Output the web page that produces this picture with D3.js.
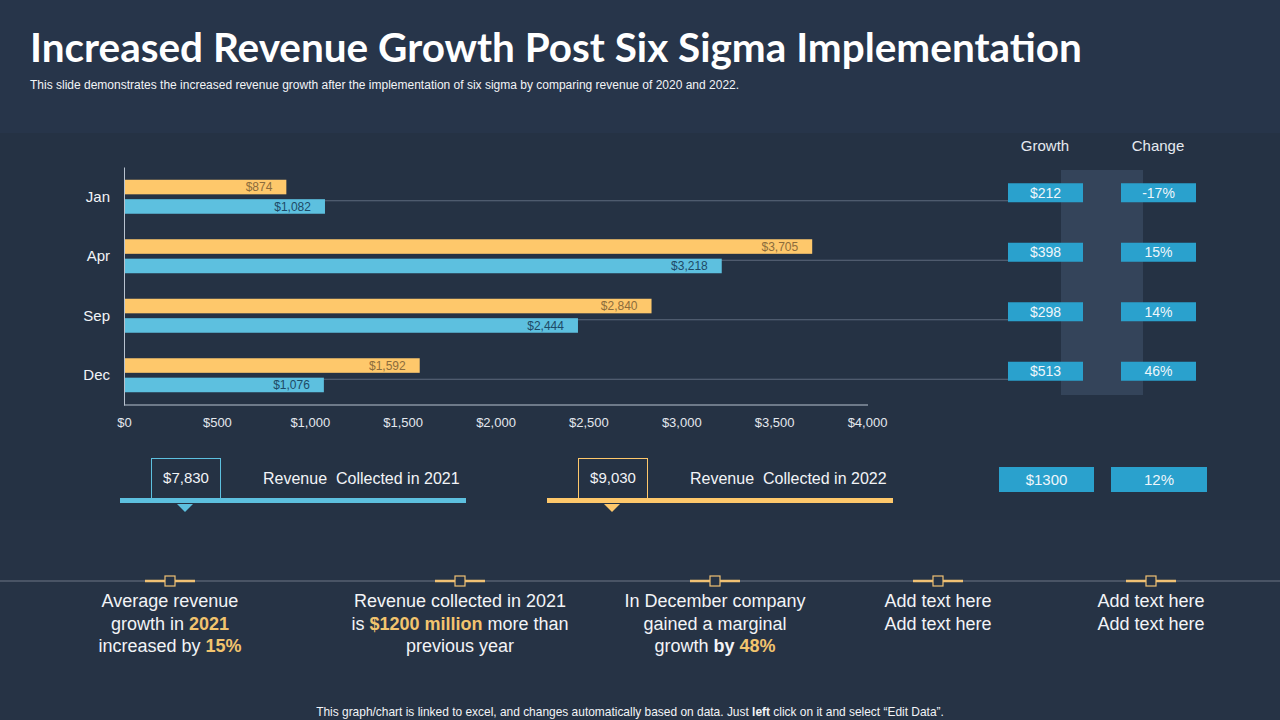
<!DOCTYPE html>
<html>
<head>
<meta charset="utf-8">
<script src="https://cdn.jsdelivr.net/npm/d3@7"></script>
<style>
  body { margin: 0; background: #253244; }
  svg { display: block; font-family: "Liberation Sans", Arial, sans-serif; }
</style>
</head>
<body>
<script>
//chart data
const months = ["Jan", "Apr", "Sep", "Dec"];
const rev2022 = [874, 3705, 2840, 1592];
const rev2021 = [1082, 3218, 2444, 1076];
const growth = [212, 398, 298, 513];
const change = [-17, 15, 14, 46];
const totalGrowth = 1300;
const totalChange = 12;
const total2021 = 7830;
const total2022 = 9030;
const xTicks = [0, 500, 1000, 1500, 2000, 2500, 3000, 3500, 4000];

//colours
const orange = "#fec86b";
const blue = "#5dc0df";
const boxBlue = "#2aa1cd";

const svg = d3.select("body").append("svg")
  .attr("width", 1280)
  .attr("height", 720);

//background bands
svg.append("rect").attr("width", 1280).attr("height", 720).attr("fill", "#253244");
svg.append("rect").attr("width", 1280).attr("height", 133).attr("fill", "#27354a");
svg.append("rect").attr("y", 520).attr("width", 1280).attr("height", 200).attr("fill", "#263345");

//title, subtitle, fitted to the slide width
function fit(sel, target) {
  let len = sel.node().getComputedTextLength();
  let fs = parseFloat(sel.attr("font-size"));
  sel.attr("font-size", fs * target / len);
}

let title = svg.append("text")
  .attr("x", 30).attr("y", 62)
  .attr("font-family", "Lato, 'DejaVu Sans', sans-serif")
  .attr("font-weight", "bold")
  .attr("font-size", 38)
  .attr("fill", "#ffffff")
  .text("Increased Revenue Growth Post Six Sigma Implementation");
fit(title, 1052);

let sub = svg.append("text")
  .attr("x", 30).attr("y", 89)
  .attr("font-size", 11)
  .attr("fill", "#f2f4f7")
  .text("This slide demonstrates the increased revenue growth after the implementation of six sigma by comparing revenue of 2020 and 2022.");
fit(sub, 710);

//scales
const x = d3.scaleLinear().domain([0, 4000]).range([124, 867]);
const y = d3.scaleBand().domain(months).range([167, 405]);
const ySub = d3.scaleBand().domain(["2022", "2021"]).range([-17, 17]).paddingInner(0.25);

const rows = months.map((m, i) => ({
  month: m, v2022: rev2022[i], v2021: rev2021[i], growth: growth[i], change: change[i]
}));
const mid = m => y(m) + y.bandwidth() / 2;

//highlight column behind the change boxes
svg.append("rect")
  .attr("x", 1061).attr("y", 170)
  .attr("width", 82).attr("height", 225)
  .attr("fill", "#34445a");

//connector lines to growth boxes
svg.selectAll(".connector")
  .data(rows).enter()
  .append("line")
  .attr("class", "connector")
  .attr("x1", x(0)).attr("x2", 1008)
  .attr("y1", d => mid(d.month) + 4)
  .attr("y2", d => mid(d.month) + 4)
  .attr("stroke", "#5d6a7c")
  .attr("stroke-width", 1);

//bars
const bars = svg.append("g");
bars.selectAll(".bar2022")
  .data(rows).enter()
  .append("rect")
  .attr("x", x(0))
  .attr("y", d => mid(d.month) + ySub("2022"))
  .attr("width", d => x(d.v2022) - x(0))
  .attr("height", ySub.bandwidth())
  .attr("fill", orange);

bars.selectAll(".bar2021")
  .data(rows).enter()
  .append("rect")
  .attr("x", x(0))
  .attr("y", d => mid(d.month) + ySub("2021"))
  .attr("width", d => x(d.v2021) - x(0))
  .attr("height", ySub.bandwidth())
  .attr("fill", blue);

const money = d => "$" + d3.format(",")(d);

bars.selectAll(".lbl2022")
  .data(rows).enter()
  .append("text")
  .attr("x", d => x(d.v2022) - 14)
  .attr("y", d => mid(d.month) + ySub("2022") + ySub.bandwidth() / 2)
  .attr("dy", "0.35em")
  .attr("text-anchor", "end")
  .attr("font-size", 12)
  .attr("fill", "#8c6c3c")
  .text(d => money(d.v2022));

bars.selectAll(".lbl2021")
  .data(rows).enter()
  .append("text")
  .attr("x", d => x(d.v2021) - 14)
  .attr("y", d => mid(d.month) + ySub("2021") + ySub.bandwidth() / 2)
  .attr("dy", "0.35em")
  .attr("text-anchor", "end")
  .attr("font-size", 12)
  .attr("fill", "#1d4a66")
  .text(d => money(d.v2021));

//axes
const xAxis = d3.axisBottom(x).tickValues(xTicks).tickFormat(money).tickSize(0).tickPadding(13);
const gx = svg.append("g").attr("transform", "translate(0,405)").call(xAxis);
gx.select(".domain").attr("stroke", "#b8c2cf").attr("d", "M124,0H868");
gx.selectAll("text").attr("font-size", 13).attr("fill", "#e4e8ee").attr("font-family", "Liberation Sans, Arial, sans-serif");

const yAxis = d3.axisLeft(y).tickSize(0).tickPadding(14);
const gy = svg.append("g").attr("transform", "translate(124,0)").call(yAxis);
gy.select(".domain").attr("stroke", "#b8c2cf");
gy.selectAll("text").attr("font-size", 15).attr("fill", "#f2f4f7").attr("font-family", "Liberation Sans, Arial, sans-serif");

//growth / change table
svg.append("text").attr("x", 1045).attr("y", 146).attr("dy", "0.35em")
  .attr("text-anchor", "middle").attr("font-size", 15).attr("fill", "#e6eaf0").text("Growth");
svg.append("text").attr("x", 1158).attr("y", 146).attr("dy", "0.35em")
  .attr("text-anchor", "middle").attr("font-size", 15).attr("fill", "#e6eaf0").text("Change");

const cells = svg.selectAll(".cell")
  .data(rows).enter()
  .append("g")
  .attr("transform", d => "translate(0," + (mid(d.month) - 4) + ")");

cells.append("rect").attr("x", 1008).attr("y", -9.5).attr("width", 75).attr("height", 19).attr("fill", boxBlue);
cells.append("text").attr("x", 1045.5).attr("dy", "0.35em").attr("text-anchor", "middle")
  .attr("font-size", 14).attr("fill", "#eef6fb").text(d => "$" + d.growth);
cells.append("rect").attr("x", 1121).attr("y", -9.5).attr("width", 75).attr("height", 19).attr("fill", boxBlue);
cells.append("text").attr("x", 1158.5).attr("dy", "0.35em").attr("text-anchor", "middle")
  .attr("font-size", 14).attr("fill", "#eef6fb").text(d => d.change + "%");

svg.append("rect").attr("x", 999).attr("y", 467).attr("width", 95).attr("height", 25).attr("fill", boxBlue);
svg.append("text").attr("x", 1046.5).attr("y", 480).attr("dy", "0.35em").attr("text-anchor", "middle")
  .attr("font-size", 15).attr("fill", "#eef6fb").text("$" + totalGrowth);
svg.append("rect").attr("x", 1111).attr("y", 467).attr("width", 96).attr("height", 25).attr("fill", boxBlue);
svg.append("text").attr("x", 1159).attr("y", 480).attr("dy", "0.35em").attr("text-anchor", "middle")
  .attr("font-size", 15).attr("fill", "#eef6fb").text(totalChange + "%");

//revenue collected callouts
const callouts = [
  { x0: 120, value: total2021, label: "Revenue  Collected in 2021", color: blue },
  { x0: 547, value: total2022, label: "Revenue  Collected in 2022", color: orange }
];
callouts.forEach(c => {
  let g = svg.append("g").attr("transform", "translate(" + c.x0 + ",0)");
  g.append("rect").attr("x", 0).attr("y", 498).attr("width", 346).attr("height", 5).attr("fill", c.color);
  g.append("rect").attr("x", 31.5).attr("y", 458.5).attr("width", 69).attr("height", 40)
    .attr("fill", "none").attr("stroke", c.color).attr("stroke-width", 1);
  g.append("path").attr("d", "M57,504L73,504L65,512Z").attr("fill", c.color);
  g.append("text").attr("x", 66).attr("y", 478).attr("dy", "0.35em").attr("text-anchor", "middle")
    .attr("font-size", 15).attr("fill", "#f2f4f7").text(money(c.value));
  g.append("text").attr("x", 143).attr("y", 478).attr("dy", "0.35em")
    .attr("font-size", 16).attr("fill", "#f2f4f7").style("white-space", "pre").text(c.label);
});

//bottom timeline
svg.append("line").attr("x1", 0).attr("x2", 1280).attr("y1", 581).attr("y2", 581)
  .attr("stroke", "#6c7686").attr("stroke-width", 1);

const notes = [
  { x: 170, lines: [[["Average revenue"]], [["growth in "], ["2021", "hl"]], [["increased by "], ["15%", "hl"]]] },
  { x: 460, lines: [[["Revenue collected in 2021"]], [["is "], ["$1200 million", "hl"], [" more than"]], [["previous year"]]] },
  { x: 715, lines: [[["In December company"]], [["gained a marginal"]], [["growth "], ["by", "b"], [" "], ["48%", "hl"]]] },
  { x: 938, lines: [[["Add text here"]], [["Add text here"]]] },
  { x: 1151, lines: [[["Add text here"]], [["Add text here"]]] }
];

notes.forEach(n => {
  let g = svg.append("g").attr("transform", "translate(" + n.x + ",0)");
  g.append("line").attr("x1", -25).attr("x2", 25).attr("y1", 581).attr("y2", 581)
    .attr("stroke", "#f0c174").attr("stroke-width", 2.5);
  g.append("rect").attr("x", -5).attr("y", 576).attr("width", 10).attr("height", 10)
    .attr("fill", "#263345").attr("stroke", "#f0c174").attr("stroke-width", 1.2);
  n.lines.forEach((line, i) => {
    let t = g.append("text").attr("x", 0).attr("y", 601 + i * 22.5).attr("dy", "0.35em")
      .attr("text-anchor", "middle").attr("font-size", 18).attr("fill", "#f2f4f7")
      .style("white-space", "pre");
    line.forEach(seg => {
      let s = t.append("tspan").text(seg[0]);
      if (seg[1] === "hl") s.attr("fill", "#f2c46e").attr("font-weight", "bold");
      if (seg[1] === "b") s.attr("font-weight", "bold");
    });
  });
});

//footer
let foot = svg.append("text").attr("x", 630).attr("y", 712).attr("dy", "0.35em")
  .attr("text-anchor", "middle").attr("font-size", 11).attr("fill", "#f2f4f7");
foot.append("tspan").text("This graph/chart is linked to excel, and changes automatically based on data. Just ");
foot.append("tspan").attr("font-weight", "bold").text("left");
foot.append("tspan").text(" click on it and select “Edit Data”.");
fit(foot, 628);
</script>
</body>
</html>
